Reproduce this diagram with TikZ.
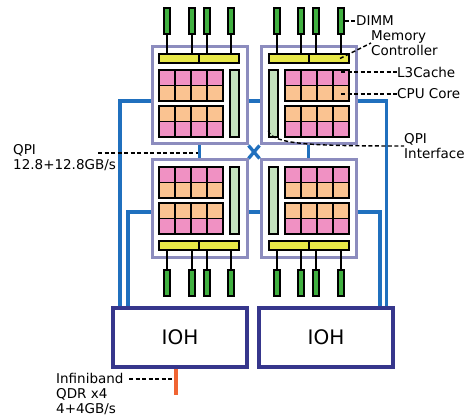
\documentclass[tikz,border=0pt]{standalone}
\usepackage{fontspec}
\setsansfont{DejaVu Sans}
\usetikzlibrary{backgrounds}
\definecolor{socketc}{RGB}{140,140,190}
\definecolor{l3pink}{RGB}{240,145,195}
\definecolor{coreorange}{RGB}{250,195,145}
\definecolor{mcyellow}{RGB}{232,232,72}
\definecolor{qpigreen}{RGB}{196,226,190}
\definecolor{dimmgreen}{RGB}{64,176,64}
\definecolor{linkblue}{RGB}{32,112,190}
\definecolor{iohnavy}{RGB}{54,54,140}
\definecolor{iborange}{RGB}{240,100,50}
\begin{document}
\begin{tikzpicture}[
  x=1pt, y=-1pt,
  font=\sffamily\fontsize{13.5}{15}\selectfont,
  socketbox/.style={rectangle, draw=socketc, line width=3pt, fill=white, minimum width=95pt, minimum height=97pt, inner sep=0pt},
  cellbox/.style={rectangle, draw=black, line width=1.6pt, minimum width=16pt, minimum height=15.5pt, inner sep=0pt},
  mcbox/.style={rectangle, draw=black, line width=1.4pt, fill=mcyellow, minimum width=40pt, minimum height=9pt, inner sep=0pt},
  qpibox/.style={rectangle, draw=black, line width=1.4pt, fill=qpigreen, minimum width=9pt, minimum height=67pt, inner sep=0pt},
  dimmbox/.style={rectangle, draw=black, line width=1.6pt, fill=dimmgreen, minimum width=6pt, minimum height=26pt, inner sep=0pt},
  iohbox/.style={rectangle, draw=iohnavy, line width=4pt, fill=white, minimum width=134pt, minimum height=59pt, font=\sffamily\fontsize{20}{24}\selectfont},
  labelnode/.style={inner sep=0pt, align=left, anchor=west},
  dimmline/.style={line width=1.4pt},
  qpilink/.style={draw=linkblue, line width=3.3pt},
  ibline/.style={draw=iborange, line width=3.5pt},
  callout/.style={line width=1.4pt, dash pattern=on 4pt off 2.5pt}
]
\useasboundingbox (0,0) rectangle (470,419);

\node (tl) [socketbox] at (199.5, 95.5) {};
\node (tr) [socketbox] at (308.5, 95.5) {};
\node (bl) [socketbox] at (199.5, 208.5) {};
\node (br) [socketbox] at (308.5, 208.5) {};

% socket contents, mirrored for each position
\foreach \s/\fx/\fy/\mcside in {tl/1/1/north, tr/-1/1/north, bl/1/-1/south, br/-1/-1/south} {
  \begin{scope}[shift={(\s.center)}, xscale=\fx, yscale=\fy]
    \foreach \r/\ry/\rc in {1/-17.75/l3pink, 2/-2.25/coreorange, 3/18.25/coreorange, 4/33.75/l3pink}
      \foreach \c/\cx in {1/-32.5, 2/-16.5, 3/-0.5, 4/15.5}
        \node (\s-c\r\c) [cellbox, fill=\rc] at (\cx, \ry) {};
    \node (\s-qpi) [qpibox] at (35, 8) {};
    \node (\s-mc1) [mcbox] at (-20.5, -37) {};
    \node (\s-mc2) [mcbox] at (19.5, -37) {};
    \foreach \i/\dx in {1/-32.5, 2/-7.5, 3/7.5, 4/31.5} {
      \node (\s-d\i) [dimmbox] at (\dx, -74.5) {};
      \draw [dimmline] (\s-d\i) -- (\s-d\i |- \s-mc1.\mcside);
    }
  \end{scope}
}

\node (ioh1) [iohbox] at (180, 337.5) {IOH};
\node (ioh2) [iohbox] at (326, 337.5) {IOH};

\begin{pgfonlayer}{background}
\draw [qpilink] (tl) -- (bl);
\draw [qpilink] (tr) -- (br);
\draw [qpilink] ([yshift=-5.5pt]tl.east) -- ([yshift=-5.5pt]tr.west);
\draw [qpilink] ([yshift=-3.5pt]bl.east) -- ([yshift=-3.5pt]br.west);
\draw [qpilink] (tl.south east) -- (br.north west);
\draw [qpilink] (tr.south west) -- (bl.north east);
\draw [qpilink] ([yshift=-5.5pt]tl.west) -| ([xshift=9pt]ioh1.north west);
\draw [qpilink] ([yshift=-3.5pt]bl.west) -| ([xshift=17pt]ioh1.north west);
\draw [qpilink] ([yshift=-5.5pt]tr.east) -| ([xshift=-8.5pt]ioh2.north east);
\draw [qpilink] ([yshift=-3.5pt]br.east) -| ([xshift=-15pt]ioh2.north east);
\end{pgfonlayer}

\coordinate (ibend) at (176, 395);
\draw [ibline] (ioh1.south -| ibend) -- (ibend);

% labels
\node (dimmlbl) [labelnode] at (356, 21) {DIMM};
\node (mclbl) [labelnode] at (371, 43) {Memory\\Controller};
\node (l3lbl) [labelnode] at (397, 72) {L3Cache};
\node (corelbl) [labelnode] at (397, 94) {CPU Core};
\node (qpiilbl) [labelnode] at (404, 146) {QPI\\Interface};
\node (qpilbl) [labelnode] at (13, 158) {QPI\\12.8+12.8GB/s};
\node (iblbl) [labelnode] at (56, 394) {Infiniband\\QDR x4\\4+4GB/s};

\coordinate (qpitail) at (98, 153);
\coordinate (ibtail) at (129, 379);
\draw [callout] (tr-d1) -- (dimmlbl);
\draw [callout] ([xshift=11pt]tr-mc1.center) -- (mclbl.west);
\draw [callout] (tr-c11.center |- l3lbl.west) -- (l3lbl.west);
\draw [callout] (tr-c21.center |- corelbl.west) -- (corelbl.west);
\draw [callout] ([yshift=7pt]tr-qpi.south west) .. controls +(4,14) and +(-90,0) .. (qpiilbl.west);
\draw [callout] (qpitail) -- ([xshift=-2pt]qpitail -| tl.south);
\draw [callout] (ibtail) -- ([xshift=-2pt]ibtail -| ibend);

\end{tikzpicture}
\end{document}
